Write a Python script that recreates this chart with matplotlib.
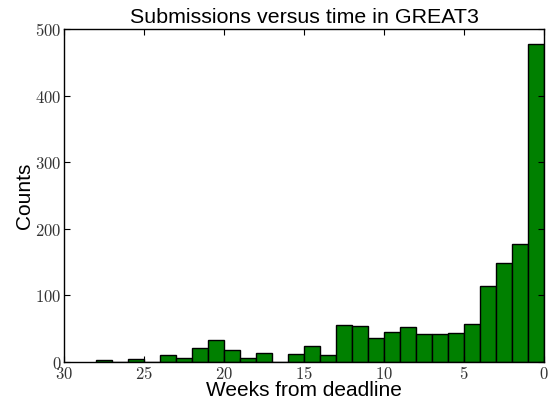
import numpy as np
import matplotlib
matplotlib.use('Agg')
import matplotlib.pyplot as plt
from matplotlib.ticker import FuncFormatter

plt.rcParams['mathtext.fontset'] = 'cm'

# bin edges (weeks from deadline) and counts per bin, oldest first
bin_left = [27, 26, 25, 24, 23, 22, 21, 20, 19, 18, 17, 16, 15, 14,
            13, 12, 11, 10, 9, 8, 7, 6, 5, 4, 3, 2, 1, 0]
counts = [3, 0, 4, 0, 10, 6, 21, 33, 18, 6, 13, 0, 12, 24,
          10, 55, 54, 36, 45, 52, 42, 42, 44, 57, 114, 148, 177, 478]
xticks = [30, 25, 20, 15, 10, 5, 0]
yticks = [0, 100, 200, 300, 400, 500]

fig = plt.figure(figsize=(5.5, 4.03), dpi=100)
ax = fig.add_axes([0.1164, 0.1017, 0.8727, 0.8263])

ax.bar(bin_left, counts, width=1, align='edge', color='#008000',
       edgecolor='black', linewidth=1)

ax.set_xlim(30, 0)
ax.set_ylim(0, 500)
ax.set_xticks(xticks)
ax.set_yticks(yticks)
fmt = FuncFormatter(lambda v, p: r'$%d$' % v)
ax.xaxis.set_major_formatter(fmt)
ax.yaxis.set_major_formatter(fmt)
ax.tick_params(direction='in', top=True, right=True, length=4,
               labelsize=12, pad=2, labelcolor='#333333')
for s in ax.spines.values():
    s.set_linewidth(1)

ax.set_title('Submissions versus time in GREAT3',
             fontdict={'family': 'Liberation Sans', 'size': 15.4}, pad=4)
font = {'family': 'Liberation Sans', 'size': 15}
ax.set_xlabel('Weeks from deadline', fontdict=font, labelpad=-1)
ax.set_ylabel('Counts', fontdict=font, labelpad=0.5)

fig.savefig('out.png', dpi=100)
